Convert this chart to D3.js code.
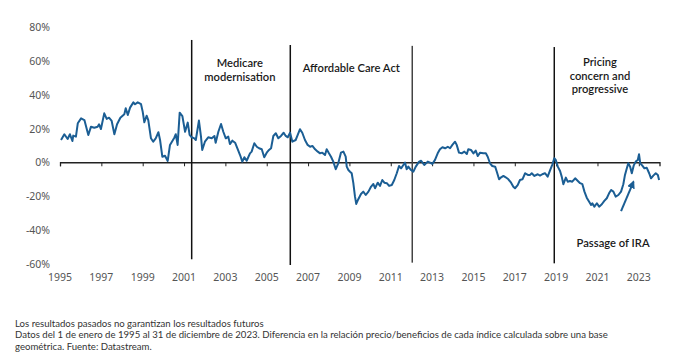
<!DOCTYPE html>
<html><head><meta charset="utf-8">
<script src="https://cdn.jsdelivr.net/npm/d3@7"></script>
<style>
html,body{margin:0;padding:0;background:#fff;}
svg{display:block;}
</style></head>
<body>
<svg id="chart" width="692" height="360"></svg>
<script>
// ---- data ----
const years = [1995.05,1995.21,1995.37,1995.48,1995.60,1995.64,1995.77,1995.86,1996.02,1996.18,1996.37,1996.50,1996.66,1996.82,1996.89,1996.98,
1997.14,1997.26,1997.37,1997.50,1997.63,1997.76,1997.92,1998.11,1998.18,1998.28,1998.39,1998.55,1998.63,1998.76,1998.92,1999.00,1999.08,1999.19,1999.27,1999.40,1999.51,1999.63,1999.76,1999.84,1999.95,
2000.08,2000.21,2000.32,2000.53,2000.60,2000.69,2000.79,2000.92,2001.05,2001.18,2001.27,2001.37,2001.50,2001.57,2001.72,2001.82,2001.88,2002.01,2002.17,2002.34,2002.47,2002.53,2002.66,2002.79,2002.90,
2003.02,2003.14,2003.22,2003.34,2003.47,2003.60,2003.71,2003.82,2003.92,2004.03,2004.19,2004.27,2004.40,2004.52,2004.63,2004.76,2004.88,2005.00,2005.11,2005.21,2005.32,2005.44,2005.56,2005.69,2005.82,2005.92,
2006.02,2006.13,2006.24,2006.40,2006.50,2006.61,2006.72,2006.85,2006.98,2007.10,2007.21,2007.34,2007.47,2007.58,2007.69,2007.82,2007.90,2008.01,2008.11,2008.22,2008.34,2008.46,2008.59,2008.71,2008.82,2008.87,2008.95,
2009.03,2009.11,2009.19,2009.27,2009.33,2009.43,2009.56,2009.67,2009.79,2009.92,2010.05,2010.16,2010.24,2010.37,2010.48,2010.59,2010.69,2010.81,2010.92,2011.05,2011.17,2011.29,2011.40,2011.50,2011.61,2011.69,2011.77,2011.85,2011.98,
2012.09,2012.21,2012.37,2012.47,2012.62,2012.79,2012.90,2013.01,2013.14,2013.27,2013.38,2013.50,2013.63,2013.76,2013.87,2013.98,2014.11,2014.19,2014.30,2014.43,2014.56,2014.68,2014.75,2014.88,
2015.00,2015.11,2015.21,2015.32,2015.48,2015.60,2015.69,2015.80,2015.91,2016.05,2016.13,2016.24,2016.34,2016.45,2016.56,2016.69,2016.82,2016.93,2017.01,2017.14,2017.25,2017.37,2017.50,2017.63,2017.74,2017.82,2017.95,
2018.11,2018.22,2018.33,2018.46,2018.59,2018.71,2018.82,2018.91,2018.98,2019.08,2019.19,2019.27,2019.35,2019.47,2019.56,2019.67,2019.78,2019.92,2020.05,2020.16,2020.27,2020.37,2020.48,2020.59,2020.69,2020.75,2020.85,2020.97,
2021.08,2021.21,2021.33,2021.45,2021.56,2021.66,2021.77,2021.88,2022.01,2022.14,2022.25,2022.33,2022.42,2022.49,2022.58,2022.66,2022.75,2022.85,2022.95,2023.01,2023.07,2023.17,2023.27,2023.38,2023.50,2023.59,2023.70,2023.82,2023.92,2023.98];

const values = [13.2,16.6,13.8,16.6,12.6,15.8,15.2,23.1,26.0,25.0,16.2,21.1,20.5,21.1,22.5,19.7,
29.0,25.7,26.4,24.5,16.6,22.5,26.4,28.4,32.0,28.0,32.4,35.5,34.4,35.5,34.4,30.0,23.7,27.6,25.0,14.2,12.2,14.2,17.8,13.2,3.3,
3.9,0.8,10.3,14.6,16.6,10.3,29.4,27.4,18.1,23.5,16.2,14.8,14.2,13.2,24.7,15.2,7.3,12.2,14.8,14.2,15.6,11.6,18.1,22.7,18.1,
14.2,15.2,10.8,12.8,11.6,7.7,4.3,0.4,3.0,0.9,5.3,6.3,11.3,9.2,8.3,7.7,3.0,5.7,7.3,8.3,15.6,17.2,14.2,15.6,17.5,15.6,
14.8,17.5,12.2,13.2,16.2,19.6,17.5,13.2,10.3,9.2,9.7,7.7,6.3,5.3,5.7,4.3,7.7,5.3,3.3,0.4,-4.1,-0.6,5.7,6.3,3.3,-2.6,-4.6,
-5.6,-6.5,-12.4,-20.4,-24.7,-21.9,-18.8,-17.4,-19.4,-17.4,-14.4,-12.9,-15.4,-12.1,-14.0,-10.5,-12.1,-12.4,-14.0,-13.5,-10.5,-6.5,-2.2,-3.6,-1.6,-0.2,-4.1,-2.6,-4.6,
-5.6,-2.6,0.4,0.9,-1.6,0.4,-0.2,-1.0,1.4,5.3,7.7,8.9,8.3,9.2,8.3,10.3,12.2,10.3,5.7,5.3,6.3,4.9,7.7,7.3,
5.3,6.9,3.7,5.7,5.3,5.3,3.3,-0.6,-2.2,-2.6,-5.6,-10.1,-8.9,-8.1,-8.9,-10.1,-12.1,-14.5,-15.4,-13.5,-10.5,-10.1,-6.5,-7.5,-7.5,-6.5,-8.1,
-7.1,-7.9,-7.1,-6.5,-8.5,-4.6,-1.2,2.4,1.4,-2.6,-5.2,-8.5,-13.0,-9.1,-11.5,-11.1,-11.5,-9.5,-11.1,-12.4,-13.0,-17.4,-21.0,-23.3,-25.3,-24.3,-26.3,-24.3,
-26.3,-24.9,-22.9,-21.3,-18.4,-16.4,-17.4,-20.4,-19.4,-17.4,-13.0,-7.5,-3.6,-0.6,-2.6,-6.5,-2.0,0.4,1.4,4.7,-0.6,-2.0,-3.6,-3.2,-6.5,-9.5,-7.9,-6.5,-7.5,-10.5];

const yTicks = [80, 60, 40, 20, 0, -20, -40, -60];
const xTicks = [1995,1997,1999,2001,2003,2005,2007,2009,2011,2013,2015,2017,2019,2021,2023];

const eventYears = [2001.37, 2006.14, 2012.04, 2018.91];
const eventTop = [72.5, 69.5, 69, 68.3];
const eventBottom = [-57.5, -60.9, -59.5, -59.9];

const noteLines = [
  ["Medicare", "modernisation"],
  ["Affordable Care Act"],
  ["Pricing", "concern and", "progressive"]
];
const noteX = [2003.70, 2006.74, 2021.12];
const noteY = [58.8, 55.7, 59.3];
const noteAnchor = ["middle", "start", "middle"];

const iraLabel = "Passage of IRA";
const iraPos = [2019.99, -48];
const arrowFrom = [2022.14, -29];
const arrowTo = [2022.74, -11.6];

const footer = [
  "Los resultados pasados no garantizan los resultados futuros",
  "Datos del 1 de enero de 1995 al 31 de diciembre de 2023. Diferencia en la relación precio/beneficios de cada índice calculada sobre una base",
  "geométrica. Fuente: Datastream."
];

// ---- drawing ----
const svg = d3.select("#chart");
const x = d3.scaleLinear().domain([1995, 2024]).range([60, 659.5]);
const y = d3.scaleLinear().domain([80, -60]).range([27.3, 263.5]);

const lblFont = "'Noto Sans', sans-serif";
const noteFont = "Lato, sans-serif";
const noteSize = 11.2;
const noteGap = 13.5;

// y labels
svg.append("g").selectAll("text").data(yTicks).join("text")
  .attr("x", 50).attr("y", d => y(d))
  .attr("text-anchor", "end").attr("dominant-baseline", "central")
  .attr("font-family", lblFont).attr("font-size", 10.5).attr("fill", "#555")
  .text(d => d + "%");

// zero axis with ticks
const xAxis = d3.axisBottom(x).tickValues(xTicks).tickSize(4).tickFormat("");
const gx = svg.append("g").attr("transform", `translate(0,${y(0)})`).call(xAxis);
gx.select(".domain").attr("stroke", "#222").attr("stroke-width", 1.3);
gx.selectAll(".tick line").attr("stroke", "#222");

// x labels
svg.append("g").selectAll("text").data(xTicks).join("text")
  .attr("x", d => x(d)).attr("y", 277)
  .attr("text-anchor", "middle").attr("dominant-baseline", "central")
  .attr("font-family", lblFont).attr("font-size", 10.5).attr("fill", "#555")
  .text(d => d);

// event lines
svg.append("g").selectAll("line").data(eventYears).join("line")
  .attr("x1", d => x(d)).attr("x2", d => x(d))
  .attr("y1", (d, i) => y(eventTop[i])).attr("y2", (d, i) => y(eventBottom[i]))
  .attr("stroke", (d, i) => i === 2 ? "#444" : "#111").attr("stroke-width", 1.5);

// series line
const pts = years.map((d, i) => [d, values[i]]);
svg.append("path").datum(pts)
  .attr("fill", "none").attr("stroke", "#1b5e94").attr("stroke-width", 2)
  .attr("stroke-linejoin", "round")
  .attr("d", d3.line().x(d => x(d[0])).y(d => y(d[1])));

// notes (one text element per line)
noteLines.forEach((lines, i) => {
  lines.forEach((s, j) => {
    svg.append("text")
      .attr("x", x(noteX[i])).attr("y", y(noteY[i]) + 4 + j * noteGap)
      .attr("font-family", noteFont).attr("font-size", noteSize).attr("font-weight", 600)
      .attr("fill", "#1a1a1a").attr("text-anchor", noteAnchor[i])
      .text(s);
  });
});

svg.append("text")
  .attr("x", x(iraPos[0])).attr("y", y(iraPos[1]) + 4)
  .attr("font-family", noteFont).attr("font-size", noteSize).attr("font-weight", 600)
  .attr("fill", "#1a1a1a").text(iraLabel);

// arrow
svg.append("defs").append("marker").attr("id", "ah")
  .attr("viewBox", "0 0 10 10").attr("refX", 8).attr("refY", 5)
  .attr("markerWidth", 4).attr("markerHeight", 4).attr("orient", "auto")
  .append("path").attr("d", "M0,0 L10,5 L0,10 z").attr("fill", "#1b5e94");
svg.append("line")
  .attr("x1", x(arrowFrom[0])).attr("y1", y(arrowFrom[1]))
  .attr("x2", x(arrowTo[0])).attr("y2", y(arrowTo[1]))
  .attr("stroke", "#1b5e94").attr("stroke-width", 2).attr("marker-end", "url(#ah)");

// footer: Lato sized so the long line spans like the reference
const footFont = "Lato, sans-serif";
const probe = svg.append("text").attr("font-family", footFont).attr("font-size", 10).text(footer[1]);
const w10 = probe.node().getComputedTextLength();
probe.remove();
const footSize = Math.min(9.6, 10 * 597 / w10);
const footGap = Math.max(11, footSize * 1.2 + 0.4);
svg.append("g").selectAll("text").data(footer).join("text")
  .attr("x", 15).attr("y", (d, i) => 326.5 + i * footGap)
  .attr("font-family", footFont).attr("font-size", footSize).attr("fill", "#333")
  .text(d => d);
</script>
</body></html>
